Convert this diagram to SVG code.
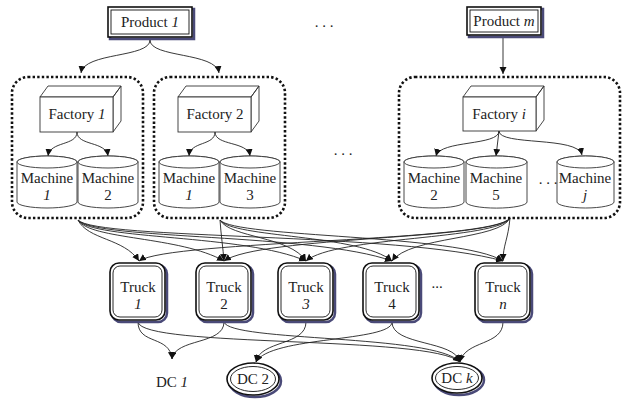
<svg xmlns="http://www.w3.org/2000/svg" width="626" height="399" viewBox="0 0 626 399">
<defs>
<style>
text{font-family:"Liberation Serif","DejaVu Serif",serif;font-size:15px;fill:#222;text-anchor:middle}
.it{font-style:italic}
.grp{fill:none;stroke:#111;stroke-width:2.6;stroke-dasharray:2.4 2.2}
.sh{fill:none;stroke:#4a4a78;stroke-width:2.5}
.bo{fill:#fff;stroke:#111;stroke-width:1.6}
.bi{fill:none;stroke:#111;stroke-width:0.9}
.thin{fill:#fff;stroke:#333;stroke-width:0.9}
.c{fill:none;stroke:#222;stroke-width:0.9;marker-end:url(#ah)}
</style>
<marker id="ah" markerUnits="userSpaceOnUse" markerWidth="8" markerHeight="8" refX="7" refY="3.5" orient="auto">
<path d="M0,0 L7,3.5 L0,7 z" fill="#111"/>
</marker>
</defs>

<g id="connectors">
<path class="c" d="M150,40 C150,58 84,52 81,73"/>
<path class="c" d="M150,40 C150,58 216,52 219,73"/>
<path class="c" d="M503,37 L503,74"/>
<path class="c" d="M77,132 C77,146 50,141 48,156"/>
<path class="c" d="M77,132 C77,146 106,141 108,156"/>
<path class="c" d="M215,132 C215,146 190,141 189,156"/>
<path class="c" d="M215,132 C215,146 248,141 250,156"/>
<path class="c" d="M499,131 C499,146 440,140 436,156"/>
<path class="c" d="M499,131 L496,156"/>
<path class="c" d="M499,131 C499,146 578,136 582,155"/>
<path class="c" d="M78,220 C88,240 124,238 139,261"/>
<path class="c" d="M78,220 C90,240 180,236 224,261"/>
<path class="c" d="M78,220 C92,240 245,234 306,261"/>
<path class="c" d="M78,220 C94,240 314,233 392,261"/>
<path class="c" d="M78,220 C96,240 400,232 503,261"/>
<path class="c" d="M220,220 C221,235 223,248 224,261"/>
<path class="c" d="M220,220 C230,238 290,236 306,261"/>
<path class="c" d="M220,220 C232,238 360,234 392,261"/>
<path class="c" d="M220,220 C234,238 460,234 503,261"/>
<path class="c" d="M510,218 C508,240 503,245 503,261"/>
<path class="c" d="M510,218 C500,240 410,236 392,261"/>
<path class="c" d="M510,218 C498,240 335,236 306,261"/>
<path class="c" d="M510,218 C496,240 260,236 224,261"/>
<path class="c" d="M510,218 C494,242 170,240 139,261"/>
<path class="c" d="M138,322 C138,345 170,335 172,359"/>
<path class="c" d="M224,322 C224,345 175,338 172,359"/>
<path class="c" d="M138,322 C142,348 430,335 460,362"/>
<path class="c" d="M224,322 C230,342 435,334 460,362"/>
<path class="c" d="M306,322 C306,346 260,340 256,362"/>
<path class="c" d="M392,322 C392,342 270,336 256,362"/>
<path class="c" d="M392,322 C392,346 455,340 460,362"/>
<path class="c" d="M503,322 C503,346 465,340 460,362"/>
</g>

<g id="product1">
<rect class="sh" x="110" y="9" width="84" height="30"/>
<rect class="bo" x="108" y="7" width="84" height="30"/>
<rect class="bi" x="111" y="10" width="78" height="24"/>
<text x="150" y="27">Product <tspan class="it">1</tspan></text>
</g>
<g id="productm">
<rect class="sh" x="469" y="9" width="74" height="28"/>
<rect class="bo" x="467" y="7" width="74" height="28"/>
<rect class="bi" x="470" y="10" width="68" height="22"/>
<text x="504" y="26">Product <tspan class="it">m</tspan></text>
</g>
<text x="324" y="27">. . .</text>

<g id="group1">
<rect class="grp" x="12" y="77" width="131" height="141" rx="16"/>
</g>
<g id="group2">
<rect class="grp" x="154" y="77" width="131" height="141" rx="16"/>
</g>
<g id="group3">
<rect class="grp" x="399" y="77" width="221" height="141" rx="16"/>
</g>
<text x="343" y="155">. . .</text>

<g id="factory1">
<path class="thin" d="M40,97 L48,86 L121,86 L113,97 Z M113,97 L121,86 L121,121 L113,132 Z"/>
<rect class="thin" x="40" y="97" width="73" height="35"/>
<text x="77" y="119">Factory <tspan class="it">1</tspan></text>
</g>
<g id="factory2">
<path class="thin" d="M178,97 L186,86 L259,86 L251,97 Z M251,97 L259,86 L259,121 L251,132 Z"/>
<rect class="thin" x="178" y="97" width="73" height="35"/>
<text x="215" y="119">Factory 2</text>
</g>
<g id="factoryi">
<path class="thin" d="M463,97 L471,86 L544,86 L536,97 Z M536,97 L544,86 L544,120 L536,131 Z"/>
<rect class="thin" x="463" y="97" width="73" height="34"/>
<text x="499" y="119">Factory <tspan class="it">i</tspan></text>
</g>

<g id="g1machine1">
<path class="thin" d="M17,162 L17,202 A30,6 0 0 0 77,202 L77,162 A30,6 0 0 0 17,162 Z"/>
<ellipse class="thin" cx="47" cy="162" rx="30" ry="6"/>
<text x="47" y="183">Machine</text><text x="47" y="200" class="it">1</text>
</g>
<g id="g1machine2">
<path class="thin" d="M78,162 L78,202 A30,6 0 0 0 138,202 L138,162 A30,6 0 0 0 78,162 Z"/>
<ellipse class="thin" cx="108" cy="162" rx="30" ry="6"/>
<text x="108" y="183">Machine</text><text x="108" y="200">2</text>
</g>
<g id="g2machine1">
<path class="thin" d="M159,162 L159,202 A30,6 0 0 0 219,202 L219,162 A30,6 0 0 0 159,162 Z"/>
<ellipse class="thin" cx="189" cy="162" rx="30" ry="6"/>
<text x="189" y="183">Machine</text><text x="189" y="200" class="it">1</text>
</g>
<g id="g2machine3">
<path class="thin" d="M220,162 L220,202 A30,6 0 0 0 280,202 L280,162 A30,6 0 0 0 220,162 Z"/>
<ellipse class="thin" cx="250" cy="162" rx="30" ry="6"/>
<text x="250" y="183">Machine</text><text x="250" y="200">3</text>
</g>
<g id="g3machine2">
<path class="thin" d="M404,162 L404,202 A30,6 0 0 0 464,202 L464,162 A30,6 0 0 0 404,162 Z"/>
<ellipse class="thin" cx="434" cy="162" rx="30" ry="6"/>
<text x="434" y="183">Machine</text><text x="434" y="200">2</text>
</g>
<g id="g3machine5">
<path class="thin" d="M466,162 L466,202 A30,6 0 0 0 527,202 L527,162 A30.5,6 0 0 0 466,162 Z"/>
<ellipse class="thin" cx="496.5" cy="162" rx="30.5" ry="6"/>
<text x="496" y="183">Machine</text><text x="496" y="200">5</text>
</g>
<text x="548" y="184">. . .</text>
<g id="g3machinej">
<path class="thin" d="M557,162 L557,202 A28.5,6 0 0 0 614,202 L614,162 A28.5,6 0 0 0 557,162 Z"/>
<ellipse class="thin" cx="585.5" cy="162" rx="28.5" ry="6"/>
<text x="585" y="183">Machine</text><text x="585" y="200" class="it">j</text>
</g>

<g id="truck1">
<rect class="sh" x="112" y="265" width="55" height="57" rx="9"/>
<rect class="bo" x="110" y="263" width="55" height="57" rx="9"/>
<rect class="bi" x="113" y="266" width="49" height="51" rx="7"/>
<text x="138" y="292">Truck</text><text x="138" y="309" class="it">1</text>
</g>
<g id="truck2">
<rect class="sh" x="198" y="265" width="55" height="57" rx="9"/>
<rect class="bo" x="196" y="263" width="55" height="57" rx="9"/>
<rect class="bi" x="199" y="266" width="49" height="51" rx="7"/>
<text x="224" y="292">Truck</text><text x="224" y="309">2</text>
</g>
<g id="truck3">
<rect class="sh" x="280" y="265" width="55" height="57" rx="9"/>
<rect class="bo" x="278" y="263" width="55" height="57" rx="9"/>
<rect class="bi" x="281" y="266" width="49" height="51" rx="7"/>
<text x="306" y="292">Truck</text><text x="306" y="309" class="it">3</text>
</g>
<g id="truck4">
<rect class="sh" x="365" y="265" width="56" height="57" rx="9"/>
<rect class="bo" x="363" y="263" width="56" height="57" rx="9"/>
<rect class="bi" x="366" y="266" width="50" height="51" rx="7"/>
<text x="392" y="292">Truck</text><text x="392" y="309">4</text>
</g>
<text x="437" y="288">...</text>
<g id="truckn">
<rect class="sh" x="477" y="265" width="55" height="57" rx="9"/>
<rect class="bo" x="475" y="263" width="55" height="57" rx="9"/>
<rect class="bi" x="478" y="266" width="49" height="51" rx="7"/>
<text x="503" y="292">Truck</text><text x="503" y="309" class="it">n</text>
</g>

<g id="dc1">
<text x="172" y="387">DC <tspan class="it">1</tspan></text>
</g>
<g id="dc2">
<ellipse class="sh" cx="255" cy="381" rx="26" ry="16"/>
<ellipse class="bo" cx="253" cy="379" rx="26" ry="16"/>
<ellipse class="bi" cx="253" cy="379" rx="22.5" ry="12.5"/>
<text x="253" y="384">DC 2</text>
</g>
<g id="dck">
<ellipse class="sh" cx="459" cy="380" rx="25" ry="15"/>
<ellipse class="bo" cx="457" cy="378" rx="25" ry="15"/>
<ellipse class="bi" cx="457" cy="378" rx="21.5" ry="11.5"/>
<text x="457" y="383">DC <tspan class="it">k</tspan></text>
</g>
</svg>
